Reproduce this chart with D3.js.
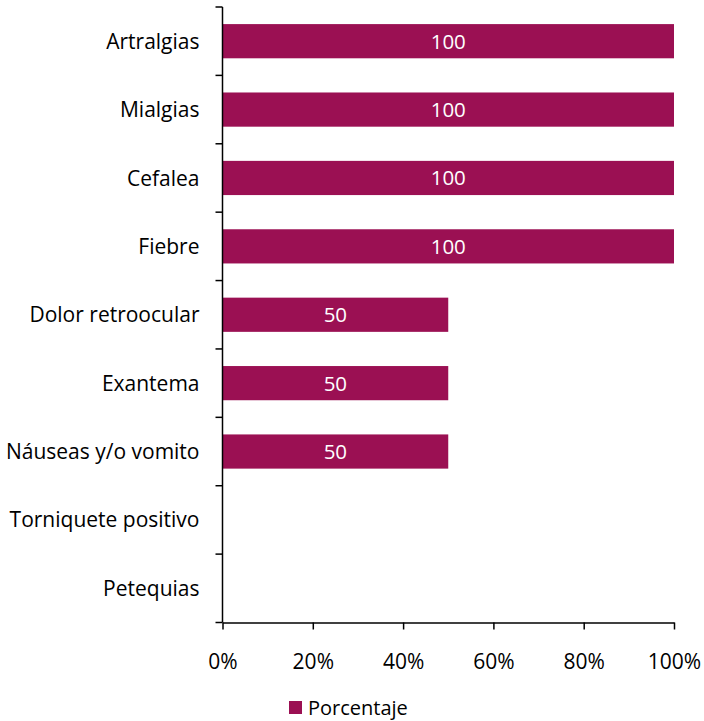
<!DOCTYPE html>
<html><head><meta charset="utf-8">
<script src="https://cdn.jsdelivr.net/npm/d3@7"></script>
<style>body{margin:0;background:#fff}svg{display:block}</style>
</head><body>
<svg id="c" width="704" height="721"></svg>
<script>
const categories = ["Artralgias","Mialgias","Cefalea","Fiebre","Dolor retroocular","Exantema","Náuseas y/o vomito","Torniquete positivo","Petequias"];
const values = [100,100,100,100,50,50,50,0,0];
const xTicks = [0,20,40,60,80,100];
const seriesName = "Porcentaje";
const color = "#9B1053";
const font = "'Open Sans', sans-serif";

(function(){
const svg = d3.select("#c");
const mL = 222.5, mR = 674, mT = 7, mB = 622.5;
const x = d3.scaleLinear().domain([0,100]).range([mL,mR]);
const y = d3.scaleBand().domain(categories).range([mT,mB]).paddingInner(0.5).paddingOuter(0.25);

svg.selectAll("rect.bar").data(categories.filter((d,i)=>values[i]>0)).join("rect")
  .attr("class","bar")
  .attr("x", x(0))
  .attr("y", d=>y(d))
  .attr("width", d=>x(values[categories.indexOf(d)])-x(0))
  .attr("height", y.bandwidth())
  .attr("fill", color);

svg.selectAll("text.lbl").data(categories.filter((d,i)=>values[i]>0)).join("text")
  .attr("class","lbl")
  .attr("x",d=>(x(0)+x(values[categories.indexOf(d)]))/2)
  .attr("y", d=>y(d)+y.bandwidth()/2)
  .attr("dy","0.36em")
  .attr("text-anchor","middle")
  .attr("fill","#fff")
  .style("font-family",font).style("font-size","20.5px")
  .text(d=>values[categories.indexOf(d)]);

// y axis
const step = (mB-mT)/categories.length;
const yAxis = svg.append("g");
yAxis.append("line").attr("x1",mL).attr("x2",mL).attr("y1",mT).attr("y2",mB).attr("stroke","#000").attr("stroke-width",1.5);
d3.range(categories.length+1).forEach(i=>{
  yAxis.append("line").attr("x1",mL-7).attr("x2",mL).attr("y1",mT+i*step).attr("y2",mT+i*step).attr("stroke","#000").attr("stroke-width",1.5);
});
yAxis.selectAll("text").data(categories).join("text")
  .attr("x", mL-23).attr("y", d=>y(d)+y.bandwidth()/2).attr("dy","0.36em")
  .attr("text-anchor","end").attr("fill","#000")
  .style("font-family",font).style("font-size","21px")
  .text(d=>d);

// x axis
const xAxis = svg.append("g").attr("transform",`translate(0,${mB})`)
  .call(d3.axisBottom(x).tickValues(xTicks).tickFormat(d=>d+"%").tickSizeInner(7).tickSizeOuter(0).tickPadding(25));
xAxis.select(".domain").attr("stroke","#000").attr("stroke-width",1.5);
xAxis.selectAll(".tick line").attr("stroke","#000").attr("stroke-width",1.5);
xAxis.selectAll("text").style("font-family",font).style("font-size","21px").attr("fill","#000");

// legend
const lg = svg.append("g");
lg.append("rect").attr("x",289).attr("y",701).attr("width",13).attr("height",13).attr("fill",color);
lg.append("text").attr("x",308).attr("y",707.5).attr("dy","0.36em").attr("fill","#000")
  .style("font-family",font).style("font-size","20px").text(seriesName);
})();
</script>
</body></html>
